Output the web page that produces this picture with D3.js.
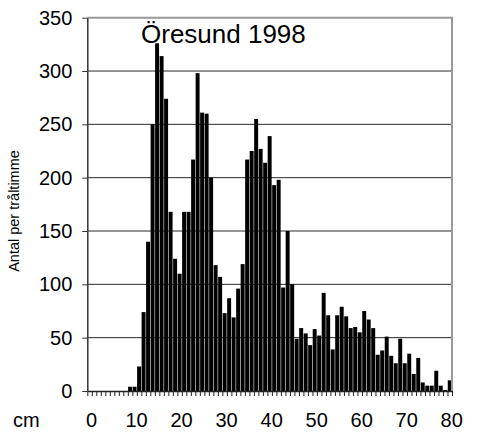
<!DOCTYPE html>
<html lang="sv">
<head>
<meta charset="utf-8">
<title>Öresund 1998</title>
<script src="https://cdn.jsdelivr.net/npm/d3@7"></script>
<style>
    body { margin: 0; background: #fff; }
    text { font-family: "Liberation Sans", Arial, sans-serif; fill: #000; }
</style>
</head>
<body>
<script>
// length classes (cm) and catch per trawl hour
var lengths = d3.range(0, 81);
var catchPerHour = [
    0, 0, 0, 0, 0, 0, 0, 0, 0, 4,
    4, 23, 74, 140, 250, 326, 314, 274, 168, 124,
    110, 168, 168, 217, 298, 261, 260, 200, 118, 107,
    73, 87, 69, 96, 119, 217, 225, 255, 227, 214,
    239, 193, 198, 97, 150, 100, 49, 59, 54, 43,
    58, 52, 92, 71, 39, 71, 79, 70, 59, 60,
    55, 75, 67, 59, 34, 38, 51, 33, 26, 49,
    26, 35, 16, 31, 8, 5, 5, 19, 5, 1,
    10
];
var yTicks = [0, 50, 100, 150, 200, 250, 300, 350];
var xLabels = [0, 10, 20, 30, 40, 50, 60, 70, 80];

var w = 478, h = 437;
// plot area (note: "top" is reserved in browsers)
var plotL = 87.3, plotR = 452, plotT = 17.7, plotB = 391;

var svg = d3.select("body").append("svg")
    .attr("width", w).attr("height", h);

var x = d3.scaleBand().domain(lengths).range([plotL, plotR])
    .paddingInner(0.12).paddingOuter(0.06);
// boundaries between length classes, for the tick marks
var xEdge = d3.scaleLinear().domain([0, lengths.length]).range([plotL, plotR]);
var y = d3.scaleLinear().domain([0, 350]).range([plotB, plotT]);

// gridlines
svg.append("g").selectAll("line")
    .data(yTicks.filter(d => d > 0 && d < 350))
    .enter().append("line")
    .attr("x1", plotL).attr("x2", plotR)
    .attr("y1", d => y(d)).attr("y2", d => y(d))
    .attr("stroke", "#2a2a2a").attr("stroke-width", 1);

// bars
svg.append("g").selectAll("rect")
    .data(catchPerHour)
    .enter().append("rect")
    .attr("x", (d, i) => x(lengths[i]))
    .attr("width", x.bandwidth())
    .attr("y", d => y(d))
    .attr("height", d => plotB - y(d))
    .attr("fill", "#000");

// plot frame, top and right
svg.append("path")
    .attr("d", "M" + plotL + "," + plotT + "H" + plotR + "V" + plotB)
    .attr("fill", "none").attr("stroke", "#999").attr("stroke-width", 2);

// y axis
var yAxis = svg.append("g")
    .attr("transform", "translate(" + plotL + ",0)")
    .call(d3.axisLeft(y).tickValues(yTicks).tickSize(5).tickSizeOuter(0).tickPadding(10));
yAxis.select(".domain").attr("stroke", "#333").attr("stroke-width", 1.5);
yAxis.selectAll(".tick line").attr("stroke", "#333");
yAxis.selectAll("text").style("font-size", "20px").attr("font-family", null);

// x axis tick marks
var xAxis = svg.append("g")
    .attr("transform", "translate(0," + plotB + ")")
    .call(d3.axisBottom(xEdge).tickValues(d3.range(0, lengths.length + 1))
        .tickSize(5).tickSizeOuter(0).tickFormat(""));
xAxis.select(".domain").attr("stroke", "#222").attr("stroke-width", 1.5);
xAxis.selectAll(".tick line").attr("stroke", "#222");

// x labels
svg.append("g").selectAll("text")
    .data(xLabels)
    .enter().append("text")
    .attr("x", d => x(d) + x.bandwidth() / 2 + 2)
    .attr("y", 427)
    .attr("text-anchor", "middle")
    .style("font-size", "20px")
    .text(d => d);

svg.append("text")
    .attr("x", 13).attr("y", 427)
    .style("font-size", "20px")
    .text("cm");

// y axis title
svg.append("text")
    .attr("transform", "translate(19,211) rotate(-90)")
    .attr("text-anchor", "middle")
    .style("font-size", "14.5px")
    .text("Antal per tråltimme");

// chart title
svg.append("text")
    .attr("x", 141).attr("y", 43)
    .style("font-size", "26px")
    .text("Öresund 1998");
</script>
</body>
</html>
